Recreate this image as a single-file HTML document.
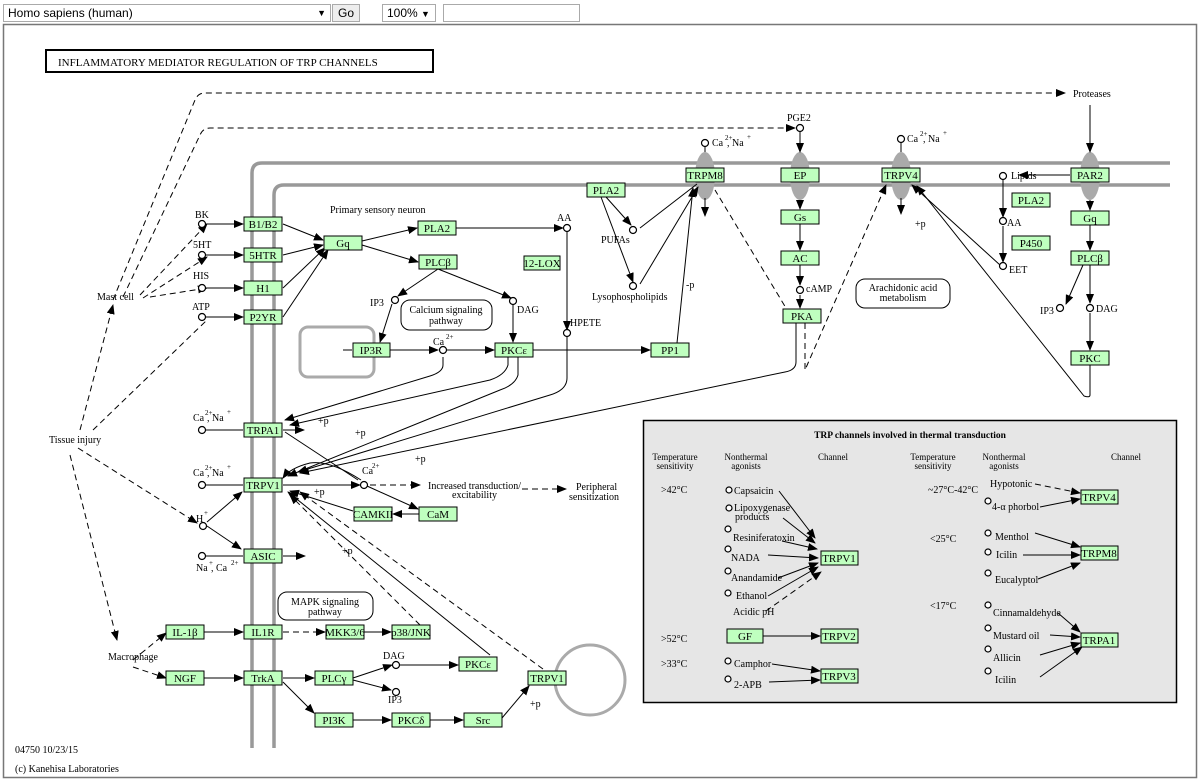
<!DOCTYPE html>
<html><head><meta charset="utf-8"><style>
body{margin:0;width:1200px;height:781px;background:#fff;overflow:hidden;font-family:"Liberation Sans",sans-serif}
.tb{position:absolute;border:1px solid #aaa;background:#fff;font-size:12px;height:16px;line-height:16px;padding:0 4px;box-sizing:content-box}
svg{position:absolute;left:0;top:0}
svg text{font-family:"Liberation Serif",serif;font-size:10px;fill:#000}
.n rect{fill:#bfffbf;stroke:#000;stroke-width:1}
.n text{font-size:11px;text-anchor:middle}
.l{stroke:#000;fill:none;stroke-width:1}
.d{stroke:#000;fill:none;stroke-width:1;stroke-dasharray:6,4}
.c{fill:#fff;stroke:#000;stroke-width:1.2}
.m{stroke:#999;fill:none;stroke-width:3.5}
</style></head><body>
<div class="tb" style="left:3px;top:4px;width:318px">Homo sapiens (human)<span style="position:absolute;right:4px;font-size:9px">▼</span></div>
<div class="tb" style="left:332px;top:4px;width:18px;background:#eee;text-align:center">Go</div>
<div class="tb" style="left:382px;top:4px;width:44px">100% <span style="font-size:9px">▼</span></div>
<div class="tb" style="left:443px;top:4px;width:127px"></div>
<svg width="1200" height="781" viewBox="0 0 1200 781">
<defs><marker id="a" markerWidth="10" markerHeight="8" refX="9" refY="4" orient="auto" markerUnits="userSpaceOnUse"><path d="M0,0L10,4L0,8z" fill="#000"/></marker></defs>
<rect x="3.5" y="24.5" width="1193" height="753" fill="none" stroke="#777" stroke-width="1.5"/>
<rect x="46" y="50" width="387" height="22" fill="none" stroke="#000" stroke-width="2"/>
<text x="58" y="66" style="font-size:11px">INFLAMMATORY  MEDIATOR  REGULATION  OF  TRP CHANNELS</text>
<path class="m" d="M252,748V173Q252,163 262,163H1170"/>
<path class="m" d="M274,748V195Q274,185 284,185H1170"/>
<g fill="#aaa"><ellipse cx="705" cy="176" rx="10" ry="24"/><ellipse cx="800" cy="176" rx="10" ry="24"/><ellipse cx="901" cy="176" rx="10" ry="24"/><ellipse cx="1090" cy="176" rx="10" ry="24"/></g>
<rect x="300" y="327" width="74" height="50" rx="8" fill="none" stroke="#aaa" stroke-width="3"/>
<circle cx="590" cy="680" r="35" fill="none" stroke="#aaa" stroke-width="3"/>
<rect x="643.5" y="420.5" width="533" height="282" fill="#e6e6e6" stroke="#000" stroke-width="1.5"/>
<path class="d" d="M113,300L195,100Q198,93 205,93H1065" marker-end="url(#a)"/>
<path class="d" d="M123,297L200,135Q203,128 210,128H795" marker-end="url(#a)"/>
<path class="d" d="M140,295L207,224" marker-end="url(#a)"/>
<path class="d" d="M143,298L207,257" marker-end="url(#a)"/>
<path class="d" d="M150,297L207,288" marker-end="url(#a)"/>
<path class="d" d="M80,430L113,305" marker-end="url(#a)"/>
<path class="d" d="M93,430L207,320"/>
<path class="d" d="M70,455L117,640" marker-end="url(#a)"/>
<path class="d" d="M78,448L197,523" marker-end="url(#a)"/>
<path class="d" d="M133,660L166,633" marker-end="url(#a)"/>
<path class="d" d="M133,667L166,678" marker-end="url(#a)"/>
<text x="195" y="218">BK</text><text x="193" y="248">5HT</text><text x="193" y="279">HIS</text><text x="192" y="310">ATP</text>
<text x="97" y="300">Mast cell</text><text x="49" y="443">Tissue injury</text><text x="108" y="660">Macrophage</text>
<text x="330" y="213">Primary sensory neuron</text>
<text x="557" y="221">AA</text><text x="601" y="243">PUFAs</text><text x="592" y="300">Lysophospholipids</text>
<text x="370" y="306">IP3</text><text x="517" y="313">DAG</text><text x="570" y="326">HPETE</text>
<text x="433" y="345">Ca</text><text x="446" y="339" style="font-size:7px">2+</text>
<text x="686" y="288">-p</text>
<text x="787" y="121">PGE2</text><text x="1073" y="97">Proteases</text>
<text x="712" y="146">Ca</text><text x="725" y="140" style="font-size:7px">2+</text><text x="727" y="146">, Na</text><text x="747" y="139" style="font-size:7px">+</text>
<text x="907" y="142">Ca</text><text x="920" y="136" style="font-size:7px">2+</text><text x="923" y="142">, Na</text><text x="943" y="135" style="font-size:7px">+</text>
<text x="806" y="292">cAMP</text><text x="915" y="227">+p</text>
<text x="1011" y="179">Lipids</text><text x="1007" y="226">AA</text><text x="1009" y="273">EET</text>
<text x="1040" y="314">IP3</text><text x="1096" y="312">DAG</text>
<text x="193" y="421">Ca</text><text x="205" y="415" style="font-size:7px">2+</text><text x="207" y="421">, Na</text><text x="227" y="414" style="font-size:7px">+</text>
<text x="193" y="476">Ca</text><text x="205" y="470" style="font-size:7px">2+</text><text x="207" y="476">, Na</text><text x="227" y="469" style="font-size:7px">+</text>
<text x="196" y="571">Na</text><text x="209" y="565" style="font-size:7px">+</text><text x="211" y="571">, Ca</text><text x="231" y="565" style="font-size:7px">2+</text>
<text x="196" y="522">H</text><text x="204" y="515" style="font-size:7px">+</text>
<text x="318" y="424">+p</text><text x="355" y="436">+p</text><text x="415" y="462">+p</text><text x="314" y="495">+p</text><text x="342" y="554">+p</text><text x="530" y="707">+p</text>
<text x="362" y="474">Ca</text><text x="372" y="468" style="font-size:7px">2+</text>
<text x="428" y="489">Increased transduction/</text><text x="452" y="498">excitability</text>
<text x="576" y="490">Peripheral</text><text x="569" y="500">sensitization</text>
<text x="383" y="659">DAG</text><text x="388" y="703">IP3</text>
<text x="15" y="753">04750 10/23/15</text><text x="15" y="772">(c) Kanehisa Laboratories</text>
<rect x="401" y="300" width="91" height="30" rx="9" fill="#fff" stroke="#000"/><text x="446" y="313" text-anchor="middle">Calcium signaling</text><text x="446" y="324" text-anchor="middle">pathway</text>
<rect x="856" y="279" width="94" height="29" rx="9" fill="#fff" stroke="#000"/><text x="903" y="291" text-anchor="middle">Arachidonic acid</text><text x="903" y="301" text-anchor="middle">metabolism</text>
<rect x="278" y="592" width="95" height="28" rx="9" fill="#fff" stroke="#000"/><text x="325" y="605" text-anchor="middle">MAPK signaling</text><text x="325" y="615" text-anchor="middle">pathway</text>
<g class="l">
<path d="M206,224H243" marker-end="url(#a)"/><path d="M206,255H243" marker-end="url(#a)"/><path d="M206,288H243" marker-end="url(#a)"/><path d="M206,317H243" marker-end="url(#a)"/>
<path d="M283,224L323,240" marker-end="url(#a)"/><path d="M283,255L323,245" marker-end="url(#a)"/><path d="M283,288L325,248" marker-end="url(#a)"/><path d="M283,317L328,250" marker-end="url(#a)"/>
<path d="M362,241L417,228" marker-end="url(#a)"/><path d="M362,245L418,262" marker-end="url(#a)"/>
<path d="M456,228H563" marker-end="url(#a)"/><path d="M567,232V330" marker-end="url(#a)"/>
<path d="M438,269L398,296" marker-end="url(#a)"/><path d="M438,269L511,298" marker-end="url(#a)"/>
<path d="M392,304L380,342" marker-end="url(#a)"/><path d="M513,305V342" marker-end="url(#a)"/>
<path d="M343,350H352"/><path d="M390,350H438" marker-end="url(#a)"/><path d="M446,350H494" marker-end="url(#a)"/>
<path d="M533,350H650" marker-end="url(#a)"/>
<path d="M606,197L631,225" marker-end="url(#a)"/><path d="M601,197L633,282" marker-end="url(#a)"/>
<path d="M640,228L697,184"/><path d="M640,284L698,187" marker-end="url(#a)"/><path d="M677,343L693,188" marker-end="url(#a)"/>
<path d="M705,198V216" marker-end="url(#a)"/><path d="M800,132V152" marker-end="url(#a)"/>
<path d="M800,200V209" marker-end="url(#a)"/><path d="M800,224V250" marker-end="url(#a)"/><path d="M800,265V285" marker-end="url(#a)"/><path d="M800,295V308" marker-end="url(#a)"/>
<path d="M901,198V214" marker-end="url(#a)"/>
<path d="M1090,105V152" marker-end="url(#a)"/><path d="M1070,175H1019" marker-end="url(#a)"/>
<path d="M1003,180V217" marker-end="url(#a)"/><path d="M1003,226V262" marker-end="url(#a)"/>
<path d="M1090,200V210" marker-end="url(#a)"/><path d="M1090,225V250" marker-end="url(#a)"/>
<path d="M1090,265V303" marker-end="url(#a)"/><path d="M1083,265L1066,304" marker-end="url(#a)"/><path d="M1090,313V350" marker-end="url(#a)"/>
<path d="M1000,265L912,185" marker-end="url(#a)"/>
<path d="M1090,365V395Q1090,398 1084,396L917,186" marker-end="url(#a)"/>
<path d="M796,323V362Q796,370 785,372L300,473" marker-end="url(#a)"/>
<path d="M443,357V365Q443,372 430,376L285,420" marker-end="url(#a)"/>
<path d="M508,357V365Q505,375 490,380L290,425" marker-end="url(#a)"/>
<path d="M518,357V375Q515,385 500,390L288,476" marker-end="url(#a)"/>
<path d="M567,336V378Q567,390 550,395L298,472" marker-end="url(#a)"/>
<path d="M283,430H304" marker-end="url(#a)"/><path d="M206,430H243"/>
<path d="M206,485H243"/><path d="M283,485H360" marker-end="url(#a)"/>
<path d="M285,432L358,480"/><path d="M361,480Q330,460 310,463Q290,468 283,478" marker-end="url(#a)"/>
<path d="M367,486L418,509" marker-end="url(#a)"/><path d="M419,514H393" marker-end="url(#a)"/>
<path d="M353,511L290,491" marker-end="url(#a)"/>
<path d="M207,522L242,492" marker-end="url(#a)"/><path d="M207,526L241,549" marker-end="url(#a)"/>
<path d="M206,556H243"/><path d="M283,556H305" marker-end="url(#a)"/>
<path d="M204,632H243" marker-end="url(#a)"/><path d="M364,632H391" marker-end="url(#a)"/>
<path d="M204,678H243" marker-end="url(#a)"/><path d="M283,678H314" marker-end="url(#a)"/>
<path d="M283,682L314,713" marker-end="url(#a)"/>
<path d="M353,678L392,665" marker-end="url(#a)"/><path d="M353,680L391,690" marker-end="url(#a)"/>
<path d="M400,665H458" marker-end="url(#a)"/>
<path d="M353,720H391" marker-end="url(#a)"/><path d="M430,720H463" marker-end="url(#a)"/>
<path d="M502,718L529,686" marker-end="url(#a)"/>
<path d="M490,655L288,492" marker-end="url(#a)"/>
</g>
<g class="d">
<path d="M283,632H325" marker-end="url(#a)"/>
<path d="M420,625L290,495" marker-end="url(#a)"/>
<path d="M543,669L300,492" marker-end="url(#a)"/>
<path d="M370,485H420" marker-end="url(#a)"/><path d="M522,489H566" marker-end="url(#a)"/>
<path d="M795,323L715,190"/>
<path d="M805,323V370L886,185" marker-end="url(#a)"/>
</g>
<g class="c"><circle cx="202" cy="224" r="3.5"/><circle cx="202" cy="255" r="3.5"/><circle cx="202" cy="288" r="3.5"/><circle cx="202" cy="317" r="3.5"/>
<circle cx="567" cy="228" r="3.5"/><circle cx="567" cy="333" r="3.5"/><circle cx="633" cy="230" r="3.5"/><circle cx="633" cy="286" r="3.5"/>
<circle cx="395" cy="300" r="3.5"/><circle cx="513" cy="301" r="3.5"/><circle cx="443" cy="350" r="3.5"/>
<circle cx="705" cy="143" r="3.5"/><circle cx="800" cy="128" r="3.5"/><circle cx="800" cy="290" r="3.5"/><circle cx="901" cy="139" r="3.5"/>
<circle cx="1003" cy="176" r="3.5"/><circle cx="1003" cy="221" r="3.5"/><circle cx="1003" cy="266" r="3.5"/><circle cx="1090" cy="308" r="3.5"/><circle cx="1060" cy="308" r="3.5"/>
<circle cx="202" cy="430" r="3.5"/><circle cx="202" cy="485" r="3.5"/><circle cx="364" cy="485" r="3.5"/><circle cx="203" cy="526" r="3.5"/><circle cx="202" cy="556" r="3.5"/>
<circle cx="396" cy="665" r="3.5"/><circle cx="396" cy="692" r="3.5"/></g>
<line x1="705" y1="147" x2="705" y2="152" stroke="#000"/><line x1="901" y1="143" x2="901" y2="152" stroke="#000"/>
<g class="n">
<rect x="244" y="217" width="38" height="14"/><text x="263" y="228">B1/B2</text>
<rect x="244" y="248" width="38" height="14"/><text x="263" y="259">5HTR</text>
<rect x="244" y="281" width="38" height="14"/><text x="263" y="292">H1</text>
<rect x="244" y="310" width="38" height="14"/><text x="263" y="321">P2YR</text>
<rect x="324" y="236" width="38" height="14"/><text x="343" y="247">Gq</text>
<rect x="418" y="221" width="38" height="14"/><text x="437" y="232">PLA2</text>
<rect x="419" y="255" width="38" height="14"/><text x="438" y="266">PLCβ</text>
<rect x="524" y="256" width="36" height="14"/><text x="542" y="267">12-LOX</text>
<rect x="353" y="343" width="37" height="14"/><text x="371" y="354">IP3R</text>
<rect x="495" y="343" width="38" height="14"/><text x="514" y="354">PKCε</text>
<rect x="651" y="343" width="38" height="14"/><text x="670" y="354">PP1</text>
<rect x="587" y="183" width="38" height="14"/><text x="606" y="194">PLA2</text>
<rect x="686" y="168" width="38" height="14"/><text x="705" y="179">TRPM8</text>
<rect x="781" y="168" width="38" height="14"/><text x="800" y="179">EP</text>
<rect x="781" y="210" width="38" height="14"/><text x="800" y="221">Gs</text>
<rect x="781" y="251" width="38" height="14"/><text x="800" y="262">AC</text>
<rect x="783" y="309" width="38" height="14"/><text x="802" y="320">PKA</text>
<rect x="882" y="168" width="38" height="14"/><text x="901" y="179">TRPV4</text>
<rect x="1071" y="168" width="38" height="14"/><text x="1090" y="179">PAR2</text>
<rect x="1012" y="193" width="38" height="14"/><text x="1031" y="204">PLA2</text>
<rect x="1012" y="236" width="38" height="14"/><text x="1031" y="247">P450</text>
<rect x="1071" y="211" width="38" height="14"/><text x="1090" y="222">Gq</text>
<rect x="1071" y="251" width="38" height="14"/><text x="1090" y="262">PLCβ</text>
<rect x="1071" y="351" width="38" height="14"/><text x="1090" y="362">PKC</text>
<rect x="244" y="423" width="38" height="14"/><text x="263" y="434">TRPA1</text>
<rect x="244" y="478" width="38" height="14"/><text x="263" y="489">TRPV1</text>
<rect x="354" y="507" width="38" height="14"/><text x="373" y="518">CAMKII</text>
<rect x="419" y="507" width="38" height="14"/><text x="438" y="518">CaM</text>
<rect x="244" y="549" width="38" height="14"/><text x="263" y="560">ASIC</text>
<rect x="166" y="625" width="38" height="14"/><text x="185" y="636">IL-1β</text>
<rect x="244" y="625" width="38" height="14"/><text x="263" y="636">IL1R</text>
<rect x="326" y="625" width="38" height="14"/><text x="345" y="636">MKK3/6</text>
<rect x="392" y="625" width="38" height="14"/><text x="411" y="636">p38/JNK</text>
<rect x="166" y="671" width="38" height="14"/><text x="185" y="682">NGF</text>
<rect x="244" y="671" width="38" height="14"/><text x="263" y="682">TrkA</text>
<rect x="315" y="671" width="38" height="14"/><text x="334" y="682">PLCγ</text>
<rect x="459" y="657" width="38" height="14"/><text x="478" y="668">PKCε</text>
<rect x="528" y="671" width="38" height="14"/><text x="547" y="682">TRPV1</text>
<rect x="315" y="713" width="38" height="14"/><text x="334" y="724">PI3K</text>
<rect x="392" y="713" width="38" height="14"/><text x="411" y="724">PKCδ</text>
<rect x="464" y="713" width="38" height="14"/><text x="483" y="724">Src</text>
<rect x="821" y="551" width="37" height="14"/><text x="839" y="562">TRPV1</text>
<rect x="727" y="629" width="36" height="14"/><text x="745" y="640">GF</text>
<rect x="821" y="629" width="37" height="14"/><text x="839" y="640">TRPV2</text>
<rect x="821" y="669" width="37" height="14"/><text x="839" y="680">TRPV3</text>
<rect x="1081" y="490" width="37" height="14"/><text x="1099" y="501">TRPV4</text>
<rect x="1081" y="546" width="37" height="14"/><text x="1099" y="557">TRPM8</text>
<rect x="1081" y="633" width="37" height="14"/><text x="1099" y="644">TRPA1</text>
</g>
<g style="font-size:9px">
<text x="910" y="438" text-anchor="middle" style="font-weight:bold;font-size:9.5px">TRP channels involved in thermal transduction</text>
<text x="675" y="460" text-anchor="middle" style="font-size:9px">Temperature</text><text x="675" y="469" text-anchor="middle" style="font-size:9px">sensitivity</text>
<text x="746" y="460" text-anchor="middle" style="font-size:9px">Nonthermal</text><text x="746" y="469" text-anchor="middle" style="font-size:9px">agonists</text>
<text x="833" y="460" text-anchor="middle" style="font-size:9px">Channel</text>
<text x="933" y="460" text-anchor="middle" style="font-size:9px">Temperature</text><text x="933" y="469" text-anchor="middle" style="font-size:9px">sensitivity</text>
<text x="1004" y="460" text-anchor="middle" style="font-size:9px">Nonthermal</text><text x="1004" y="469" text-anchor="middle" style="font-size:9px">agonists</text>
<text x="1126" y="460" text-anchor="middle" style="font-size:9px">Channel</text>
<text x="661" y="493">&gt;42°C</text><text x="661" y="642">&gt;52°C</text><text x="661" y="667">&gt;33°C</text>
<text x="928" y="493">~27°C-42°C</text><text x="930" y="542">&lt;25°C</text><text x="930" y="609">&lt;17°C</text>
<text x="734" y="494">Capsaicin</text><text x="734" y="511">Lipoxygenase</text><text x="735" y="520">products</text>
<text x="733" y="541">Resiniferatoxin</text><text x="731" y="561">NADA</text><text x="731" y="581">Anandamide</text><text x="736" y="599">Ethanol</text><text x="733" y="615">Acidic pH</text>
<text x="734" y="667">Camphor</text><text x="734" y="688">2-APB</text>
<text x="990" y="487">Hypotonic</text><text x="992" y="510">4-α phorbol</text>
<text x="995" y="540">Menthol</text><text x="996" y="558">Icilin</text><text x="995" y="583">Eucalyptol</text>
<text x="993" y="616">Cinnamaldehyde</text><text x="993" y="639">Mustard oil</text><text x="993" y="661">Allicin</text><text x="995" y="683">Icilin</text>
</g>
<g class="c"><circle cx="729" cy="490" r="3"/><circle cx="729" cy="508" r="3"/><circle cx="728" cy="529" r="3"/><circle cx="728" cy="549" r="3"/><circle cx="728" cy="571" r="3"/><circle cx="728" cy="593" r="3"/>
<circle cx="728" cy="661" r="3"/><circle cx="728" cy="679" r="3"/><circle cx="988" cy="501" r="3"/><circle cx="988" cy="533" r="3"/><circle cx="988" cy="552" r="3"/><circle cx="988" cy="573" r="3"/>
<circle cx="988" cy="605" r="3"/><circle cx="988" cy="628" r="3"/><circle cx="988" cy="649" r="3"/><circle cx="988" cy="671" r="3"/></g>
<g class="l">
<path d="M779,491L815,538" marker-end="url(#a)"/><path d="M783,518L815,543" marker-end="url(#a)"/><path d="M782,541L817,549" marker-end="url(#a)"/>
<path d="M768,555L818,558" marker-end="url(#a)"/><path d="M778,578L818,563" marker-end="url(#a)"/><path d="M768,596L818,567" marker-end="url(#a)"/>
<path d="M763,636H820" marker-end="url(#a)"/><path d="M772,664L820,671" marker-end="url(#a)"/><path d="M769,682L820,680" marker-end="url(#a)"/>
<path d="M1040,507L1080,499" marker-end="url(#a)"/><path d="M1035,533L1080,547" marker-end="url(#a)"/><path d="M1023,555H1080" marker-end="url(#a)"/><path d="M1038,579L1080,563" marker-end="url(#a)"/>
<path d="M1058,613L1080,632" marker-end="url(#a)"/><path d="M1050,635L1080,637" marker-end="url(#a)"/><path d="M1040,655L1080,643" marker-end="url(#a)"/><path d="M1040,677L1082,647" marker-end="url(#a)"/>
</g>
<g class="d"><path d="M766,611L821,572" marker-end="url(#a)"/><path d="M1035,484L1080,493" marker-end="url(#a)"/></g>
</svg>
</body></html>
